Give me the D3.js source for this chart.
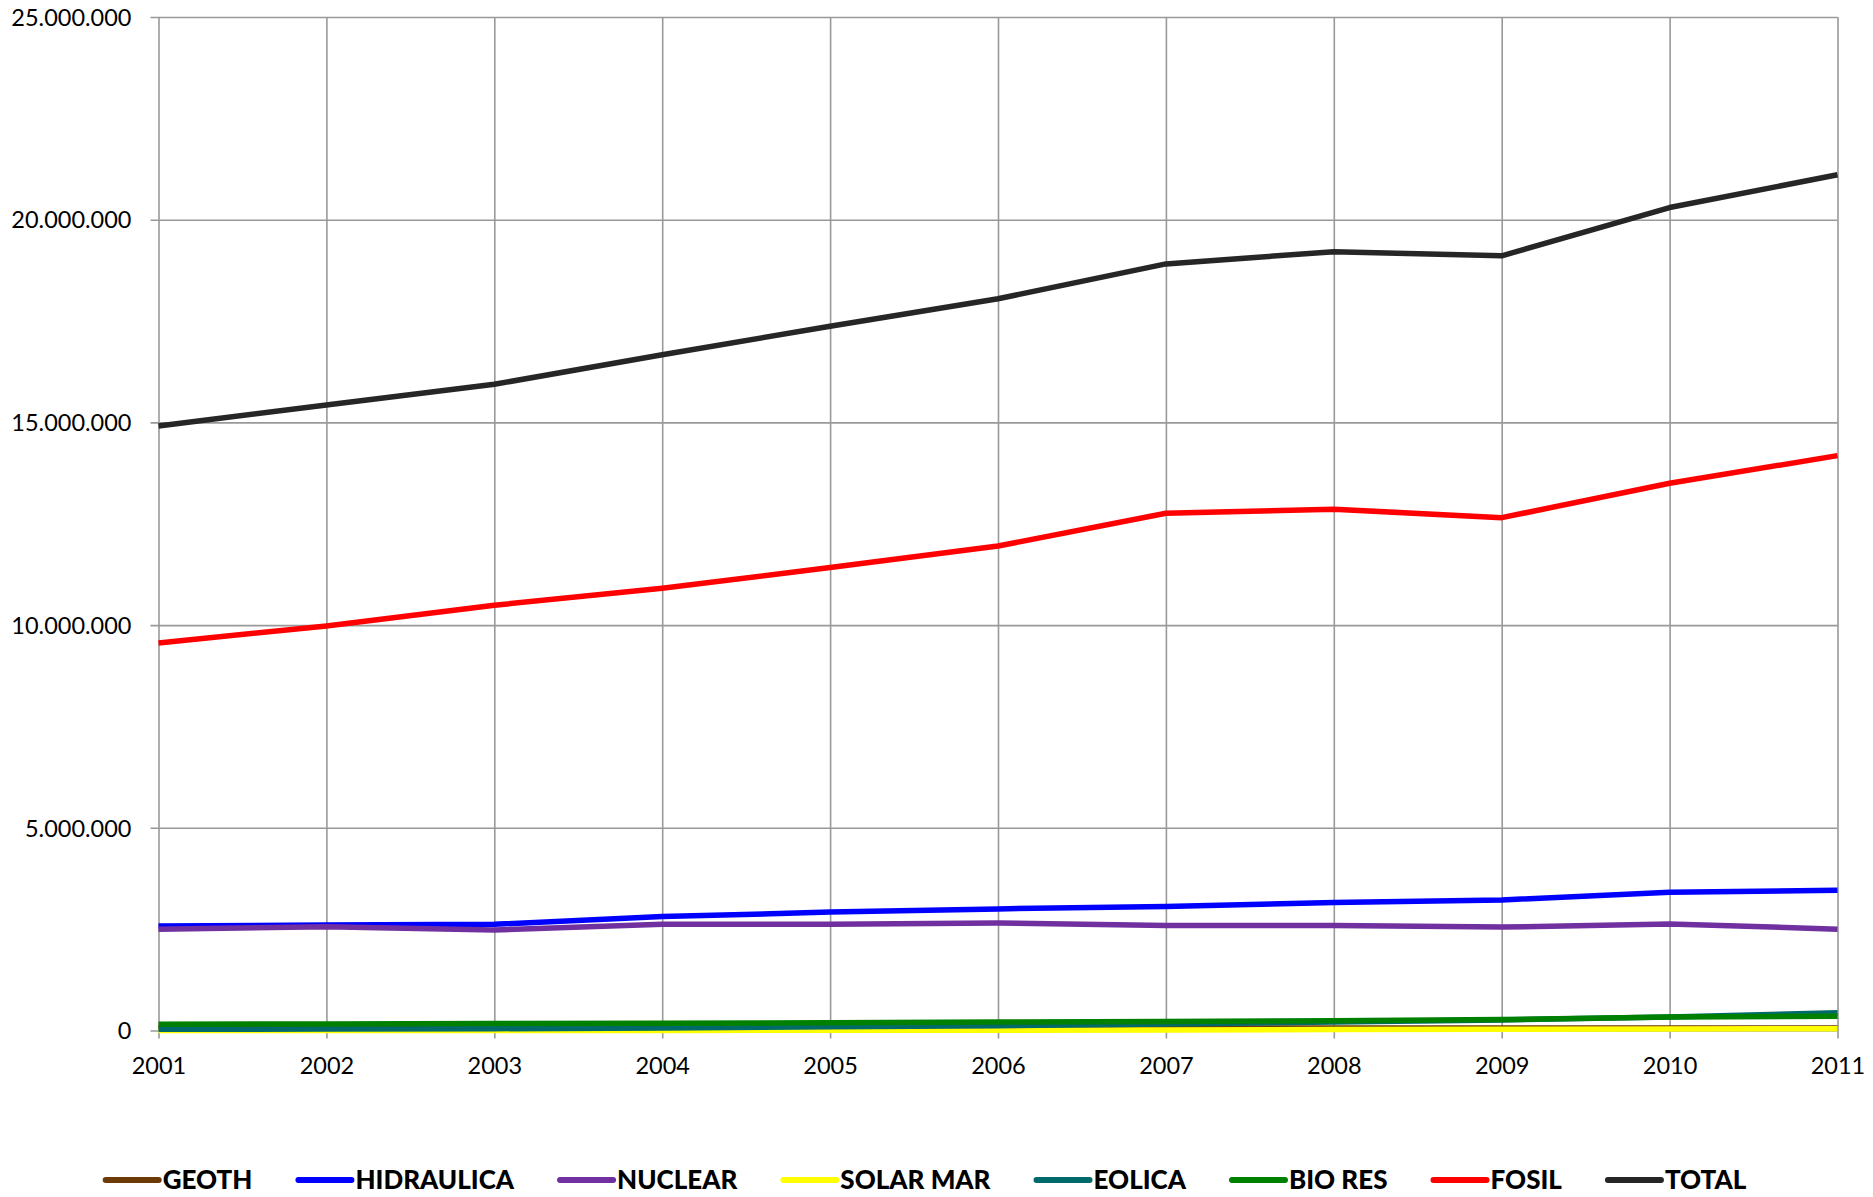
<!DOCTYPE html>
<html>
<head>
<meta charset="utf-8">
<script src="https://cdn.jsdelivr.net/npm/d3@7"></script>
<style>
  html, body { margin: 0; padding: 0; background: #ffffff; }
  svg { display: block; }
  text { font-family: Lato, "Open Sans", sans-serif; fill: #000; }
</style>
</head>
<body>
<svg id="chart" width="1873" height="1197"></svg>
<script>
// Years on the horizontal axis
const years = [2001, 2002, 2003, 2004, 2005, 2006, 2007, 2008, 2009, 2010, 2011];

// Generation by source, one array per series
const geoth      = [  60000,   60000,   60000,   60000,   60000,   60000,   60000,   60000,   60000,   60000,   60000];
const hidraulica = [2580000, 2600000, 2620000, 2810000, 2920000, 3000000, 3060000, 3160000, 3220000, 3410000, 3460000];
const nuclear    = [2500000, 2560000, 2480000, 2620000, 2620000, 2650000, 2590000, 2590000, 2550000, 2630000, 2500000];
const solarMar   = [   2000,    2000,    2000,    3000,    5000,    8000,   15000,   25000,   30000,   35000,   45000];
const eolica     = [  30000,   35000,   45000,   60000,   90000,  120000,  160000,  210000,  260000,  330000,  440000];
const bioRes     = [ 155000,  160000,  170000,  180000,  190000,  210000,  220000,  240000,  270000,  330000,  350000];
const fosil      = [9560000, 9980000,10490000,10910000,11420000,11950000,12760000,12860000,12650000,13500000,14180000];
const total      = [14910000,15430000,15940000,16670000,17370000,18050000,18910000,19210000,19110000,20300000,21110000];

// Series names and colours, in drawing / legend order
const seriesNames  = ["GEOTH", "HIDRAULICA", "NUCLEAR", "SOLAR MAR", "EOLICA", "BIO RES", "FOSIL", "TOTAL"];
const seriesColors = ["#6b3a06", "#0000ff", "#7030a0", "#ffff00", "#006a6a", "#008000", "#ff0000", "#262626"];
const seriesValues = [geoth, hidraulica, nuclear, solarMar, eolica, bioRes, fosil, total];

// Value axis ticks
const yTicks = [0, 5000000, 10000000, 15000000, 20000000, 25000000];

const svg = d3.select("#chart");
const plot = { left: 158.5, right: 1837.5, top: 17, bottom: 1030.5 };

const x = d3.scalePoint().domain(years).range([plot.left, plot.right]);
const y = d3.scaleLinear().domain([0, 25000000]).range([plot.bottom, plot.top]);

const fmt = v => v === 0 ? "0" : d3.format(",")(v).replace(/,/g, ".");

// Horizontal gridlines with left tick marks and labels
const yAxis = d3.axisLeft(y)
  .tickValues(yTicks)
  .tickSize(-(plot.right - plot.left) - 8)
  .tickPadding(19)
  .tickFormat(fmt);

const gy = svg.append("g")
  .attr("transform", `translate(${plot.right},0)`)
  .call(yAxis);
gy.select(".domain").remove();
gy.selectAll(".tick line")
  .attr("x1", 0)
  .attr("x2", -(plot.right - plot.left) - 8)
  .attr("stroke", "#999999")
  .attr("stroke-width", 1.6);
gy.selectAll(".tick text")
  .attr("x", -(plot.right - plot.left) - 27)
  .attr("dy", "0.35em")
  .style("font-size", "23.5px")
  .style("font-family", "Lato, sans-serif")
  .attr("fill", "#000");

// Vertical gridlines with tick marks below the baseline and year labels
const xAxis = d3.axisBottom(x)
  .tickSize(-(plot.bottom - plot.top) - 8)
  .tickPadding(0)
  .tickFormat(d => String(d));

const gx = svg.append("g")
  .attr("transform", `translate(0,${plot.bottom + 8})`)
  .call(xAxis);
gx.select(".domain").remove();
gx.selectAll(".tick line")
  .attr("stroke", "#999999")
  .attr("stroke-width", 1.6);
gx.selectAll(".tick text")
  .attr("y", 27)
  .attr("dy", "0.35em")
  .style("font-size", "23.5px")
  .style("font-family", "Lato, sans-serif")
  .attr("fill", "#000");

// Series lines
const line = d3.line()
  .x((d, i) => x(years[i]))
  .y(d => y(d));

svg.append("g")
  .selectAll("path")
  .data(seriesValues)
  .join("path")
  .attr("d", d => line(d))
  .attr("fill", "none")
  .attr("stroke", (d, i) => seriesColors[i])
  .attr("stroke-width", 5.5)
  .attr("stroke-linejoin", "round");

// Legend along the bottom
const legend = svg.append("g");
const items = legend.selectAll("g")
  .data(seriesNames)
  .join("g");

items.append("line")
  .attr("x1", 2).attr("x2", 55)
  .attr("y1", 0).attr("y2", 0)
  .attr("stroke", (d, i) => seriesColors[i])
  .attr("stroke-width", 6)
  .attr("stroke-linecap", "round");

items.append("text")
  .attr("x", 59)
  .attr("dy", "0.36em")
  .style("font-size", "26px")
  .style("font-weight", "900")
  .style("font-family", "Lato, sans-serif")
  .text(d => d);

let cursor = 0;
items.each(function () {
  const g = d3.select(this);
  g.attr("transform", `translate(${cursor},0)`);
  const w = g.select("text").node().getComputedTextLength();
  cursor += 59 + w + 44;
});
const legendWidth = cursor - 44;
legend.attr("transform", `translate(${925 - legendWidth / 2},1180)`);
</script>
</body>
</html>
